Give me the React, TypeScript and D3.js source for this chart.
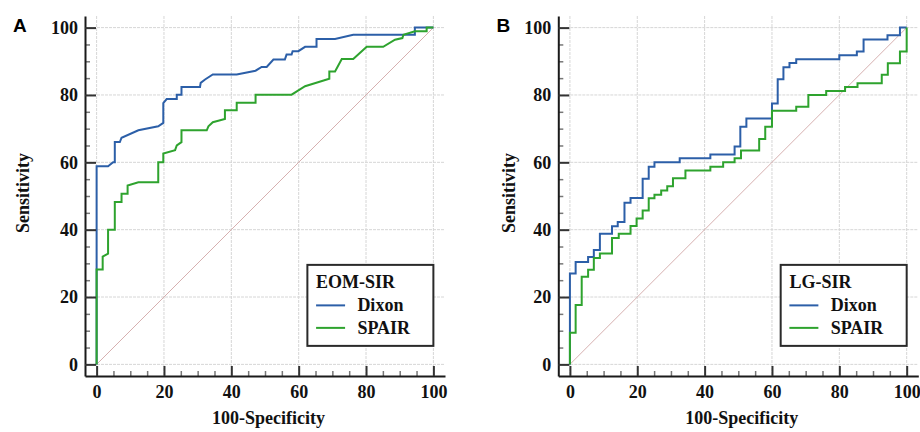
import { useEffect, useRef } from "react";
import * as d3 from "d3";

// panel A: EOM-SIR (corner points of the ROC curves, 100-specificity / sensitivity)
const dixonA_x = [0, 0, 3.4, 4.9, 5.4, 5.4, 6.9, 7.4, 12.4, 18.3, 19.8, 19.8, 20.8, 23.8, 23.8, 25.2, 25.2, 30.7, 30.9, 32.2, 34.5, 41.6, 47.2, 49, 50.5, 52.5, 55.9, 56.4, 57.9, 58.2, 59.9, 61.9, 65.3, 65.3, 70.8, 76.2, 94.5, 94.5, 100];
const dixonA_y = [0, 58.8, 58.8, 60, 60, 66, 66, 67.3, 69.5, 70.7, 71.7, 77.6, 78.8, 78.8, 80.1, 80.1, 82.4, 82.4, 83.6, 84.6, 86.1, 86.1, 87.2, 88.3, 88.3, 90.5, 90.5, 92, 92, 93, 93, 94.3, 94.3, 96.6, 96.6, 97.9, 97.9, 100, 100];
const spairA_x = [0, 0, 1.8, 1.8, 3.4, 3.4, 5.4, 5.4, 7.4, 7.4, 9.2, 9.2, 12.4, 18.3, 18.3, 19.8, 19.8, 23.3, 23.8, 25.2, 25.2, 32.7, 33.2, 34.5, 38.1, 38.1, 41.6, 41.6, 47.2, 47.2, 57.9, 61.9, 69.1, 69.1, 70.8, 72.8, 76.2, 80.2, 85.1, 88.6, 90.8, 91.1, 94.5, 98, 98, 100];
const spairA_y = [0, 28.2, 28.2, 32, 32.9, 40, 40, 48.2, 48.2, 50.7, 50.7, 53.1, 54.1, 54.1, 60, 60, 62.6, 63.6, 65, 66, 69.5, 69.5, 70.7, 71.9, 72.9, 75.5, 75.5, 77.7, 77.7, 80.1, 80.1, 82.6, 84.8, 87, 87, 90.7, 90.7, 94.3, 94.3, 96.4, 96.9, 97.9, 98.9, 98.9, 100, 100];

// panel B: LG-SIR (step points: x where the step happens, sensitivity after it)
const dixonB_x = [0, 0, 1.7, 5.4, 7.1, 8.9, 12.5, 14.2, 16.2, 18, 21.6, 23.4, 25.1, 32.6, 41.7, 48.9, 50.6, 52.4, 60, 61.7, 63.4, 65.2, 67.2, 80, 85.2, 87.2, 94.3, 98, 100];
const dixonB_y = [0, 27, 30.4, 31.9, 34, 38.8, 41, 42.3, 48, 49.4, 55.1, 58.7, 60, 61.2, 62.3, 64.7, 70.6, 73, 77.5, 84.7, 88.2, 89.5, 90.6, 91.8, 92.9, 96.5, 97.7, 100, 100];
const spairB_x = [0, 0, 1.7, 3.5, 5.4, 7.1, 8.9, 12.5, 14.5, 18, 19.8, 21.6, 23.4, 25.1, 27.1, 28.9, 30.6, 34.3, 41.7, 45.5, 48.9, 50.8, 56.2, 58, 60, 67.2, 70.8, 76.1, 81.7, 85.4, 92.6, 94.4, 98, 100];
const spairB_y = [0, 9.4, 17.6, 26, 28.1, 31.6, 32.9, 37.5, 38.8, 41.1, 43.3, 45.7, 49.3, 50.4, 51.6, 52.9, 55.3, 57.6, 58.7, 60, 61.2, 63.5, 66.9, 70.6, 75.3, 76.5, 80, 81.2, 82.4, 83.5, 86, 89.4, 92.9, 100];

const seriesNames = ["Dixon", "SPAIR"];
const seriesColors = ["#2c5fa8", "#2ea32e"];
const majorTicks = [0, 20, 40, 60, 80, 100];
const minorTicks = d3.range(0, 101, 5).filter((v) => v % 20 !== 0);

const zip = (xs: number[], ys: number[]) => xs.map((x, i) => [x, ys[i]] as [number, number]);

const panels = [
  {
    letter: "A",
    legendTitle: "EOM-SIR",
    left: 85,
    letterX: 13,
    yTitleX: 28.5,
    curve: d3.curveLinear,
    series: [zip(dixonA_x, dixonA_y), zip(spairA_x, spairA_y)],
  },
  {
    letter: "B",
    legendTitle: "LG-SIR",
    left: 558.3,
    letterX: 496.5,
    yTitleX: 515,
    curve: d3.curveStepAfter,
    series: [zip(dixonB_x, dixonB_y), zip(spairB_x, spairB_y)],
  },
];

const SERIF = "Liberation Serif, Times New Roman, DejaVu Serif, serif";

export default function App() {
  const ref = useRef<SVGSVGElement>(null);

  useEffect(() => {
    const svg = d3.select(ref.current);
    svg.selectAll("*").remove();

    const top = 16;
    const bottom = 376;
    const size = 360;

    const serifText = (sel: any) =>
      sel
        .style("font-family", SERIF)
        .style("font-weight", "bold")
        .style("font-size", "18px")
        .attr("fill", "#111");

    panels.forEach((p) => {
      const g = svg.append("g");
      const x = d3.scaleLinear().domain([-3.45, 103.45]).range([p.left, p.left + size]);
      const y = d3.scaleLinear().domain([-3.45, 103.45]).range([bottom, top]);

      // grid
      g.selectAll(".hgrid")
        .data(majorTicks)
        .enter()
        .append("line")
        .attr("x1", p.left)
        .attr("x2", p.left + size)
        .attr("y1", (d) => y(d))
        .attr("y2", (d) => y(d))
        .attr("stroke", "#d6d6d6")
        .attr("stroke-dasharray", "3,1");
      g.selectAll(".vgrid")
        .data(majorTicks)
        .enter()
        .append("line")
        .attr("x1", (d) => x(d))
        .attr("x2", (d) => x(d))
        .attr("y1", top)
        .attr("y2", bottom)
        .attr("stroke", "#d6d6d6")
        .attr("stroke-dasharray", "3,1");

      // reference diagonal
      g.append("line")
        .attr("x1", x(0))
        .attr("y1", y(0))
        .attr("x2", x(100))
        .attr("y2", y(100))
        .attr("stroke", "#d6b0b0")
        .attr("stroke-width", 1);

      // curves
      const line = d3
        .line<[number, number]>()
        .x((d) => x(d[0]))
        .y((d) => y(d[1]))
        .curve(p.curve);
      p.series.forEach((s, i) => {
        g.append("path")
          .attr("d", line(s))
          .attr("fill", "none")
          .attr("stroke", seriesColors[i])
          .attr("stroke-width", 2);
      });

      // axes
      const yMinor = g.append("g").attr("transform", `translate(${p.left},0)`)
        .call(d3.axisLeft(y).tickValues(minorTicks).tickSize(-5).tickSizeOuter(0).tickFormat(() => ""));
      yMinor.select(".domain").remove();
      yMinor.selectAll(".tick line").attr("stroke", "#777").attr("stroke-width", 1.5);

      const xMinor = g.append("g").attr("transform", `translate(0,${bottom})`)
        .call(d3.axisBottom(x).tickValues(minorTicks).tickSize(-5).tickSizeOuter(0).tickFormat(() => ""));
      xMinor.select(".domain").remove();
      xMinor.selectAll(".tick line").attr("stroke", "#777").attr("stroke-width", 1.5);

      const yAxis = g.append("g").attr("transform", `translate(${p.left},0)`)
        .call(d3.axisLeft(y).tickValues(majorTicks).tickSize(-11).tickSizeOuter(0).tickPadding(7));
      const xAxis = g.append("g").attr("transform", `translate(0,${bottom})`)
        .call(d3.axisBottom(x).tickValues(majorTicks).tickSize(-10).tickSizeOuter(0).tickPadding(9.5));
      [yAxis, xAxis].forEach((ax) => {
        ax.select(".domain").attr("stroke", "#1a1a1a").attr("stroke-width", 2);
        ax.selectAll(".tick line").attr("stroke", "#333").attr("stroke-width", 2);
        serifText(ax.selectAll(".tick text"));
      });

      // titles
      serifText(
        g.append("text")
          .attr("x", (x(0) + x(100)) / 2 + 3.5)
          .attr("y", 424)
          .attr("text-anchor", "middle")
          .text("100-Specificity")
      );

      serifText(
        g.append("text")
          .attr("transform", `translate(${p.yTitleX},193) rotate(-90)`)
          .attr("text-anchor", "middle")
          .text("Sensitivity")
      );

      g.append("text")
        .attr("x", p.letterX)
        .attr("y", 32.3)
        .style("font-family", "Liberation Sans, Arial, sans-serif")
        .style("font-weight", "bold")
        .style("font-size", "19px")
        .attr("fill", "#000")
        .text(p.letter);

      // legend
      const L = x(100) - 126;
      const T = y(0) - 99.5;
      const leg = g.append("g");
      leg.append("rect")
        .attr("x", L)
        .attr("y", T)
        .attr("width", 126)
        .attr("height", 81)
        .attr("fill", "#fff")
        .attr("stroke", "#2a2a2a")
        .attr("stroke-width", 2);
      serifText(
        leg.append("text")
          .attr("x", L + 8.7)
          .attr("y", T + 23.3)
          .text(p.legendTitle)
      );
      seriesNames.forEach((name, i) => {
        const ly = T + 40.5 + i * 22.5;
        leg.append("line")
          .attr("x1", L + 8.7)
          .attr("x2", L + 37.7)
          .attr("y1", ly)
          .attr("y2", ly)
          .attr("stroke", seriesColors[i])
          .attr("stroke-width", 2);
        serifText(
          leg.append("text")
            .attr("x", L + 50)
            .attr("y", ly + 6)
            .text(name)
        );
      });
    });
  }, []);

  return (
    <svg
      ref={ref}
      width={920}
      height={432}
      style={{ position: "absolute", left: 0, top: 0, background: "#fff" }}
    />
  );
}
